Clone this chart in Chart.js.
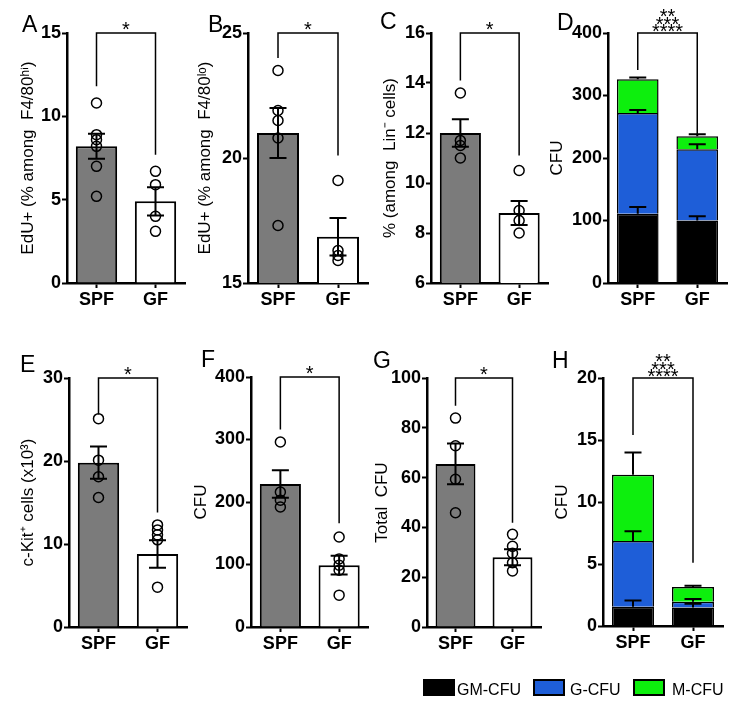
<!DOCTYPE html>
<html>
<head>
<meta charset="utf-8">
<script src="https://cdn.jsdelivr.net/npm/chart.js@4.4.1/dist/chart.umd.min.js"></script>
<style>
  body { margin: 0; background: #fff; width: 735px; height: 706px; position: relative; overflow: hidden;
         font-family: 'Liberation Sans', Arial, Helvetica, sans-serif; }
  .box { position: absolute; width: 32px; height: 17px; box-sizing: border-box; border: 2px solid #000; }
  .lab { position: absolute; font-size: 16px; line-height: 17px; color: #000; white-space: nowrap; }
</style>
</head>
<body>
<script>
const FONT = "'Liberation Sans', Arial, Helvetica, sans-serif";
const groups = ['SPF', 'GF'];

// A - EdU+ among F4/80hi
const hiMean = [8.2, 4.9];
const hiSem = [0.75, 0.85];
const hiSpf = [10.8, 8.9, 8.6, 8.2, 7.0, 5.2];
const hiGf = [6.7, 5.9, 4.0, 3.1];

// B - EdU+ among F4/80lo
const loMean = [21.0, 16.85];
const loSem = [1.0, 0.75];
const loSpf = [23.5, 21.9, 21.5, 20.8, 17.3];
const loGf = [19.1, 16.3, 16.1, 15.9];

// C - % among Lin- cells
const linMean = [12.0, 8.8];
const linSem = [0.55, 0.48];
const linSpf = [13.6, 11.7, 11.5, 11.0];
const linGf = [10.5, 8.9, 8.5, 8.0];

// D - CFU by type
const dGM = [111, 100];
const dG = [161, 114];
const dM = [54, 21];
const dGMSem = [10.5, 7];
const dGSem = [5, 8];
const dMSem = [3, 3];

// E - c-Kit+ cells (x10^3)
const kitMean = [19.8, 8.8];
const kitSem = [1.95, 1.65];
const kitSpf = [25.1, 20.1, 18.1, 15.6];
const kitGf = [12.3, 11.7, 11.1, 10.5, 4.8];

// F - CFU
const fMean = [229, 99];
const fSem = [22, 15];
const fSpf = [296, 216, 203, 192];
const fGf = [144, 109, 99, 91, 51];

// G - total CFU
const totMean = [65.5, 28.0];
const totSem = [8.2, 3.2];
const totSpf = [83.9, 72.8, 59.3, 45.9];
const totGf = [37.2, 32.4, 29.6, 25.8, 22.5];

// H - CFU by type
const hGM = [1.55, 1.5];
const hG = [5.3, 0.45];
const hM = [5.35, 1.2];
const hGMSem = [0.5, 0.3];
const hGSem = [0.8, 0.22];
const hMSem = [1.8, 0.1];

// y ranges [min, max, step]
const rangeA = [0, 15, 5];
const rangeB = [15, 25, 5];
const rangeC = [6, 16, 2];
const rangeD = [0, 400, 100];
const rangeE = [0, 30, 10];
const rangeF = [0, 400, 100];
const rangeG = [0, 100, 20];
const rangeH = [0, 20, 5];

// significance brackets [top, SPF end, GF end]
const brA = [15, 11.8, 7.7];
const brB = [25, 24.0, 20.1];
const brC = [16, 14.1, 11.1];
const brD = [400, 341, 237];
const brE = [30, 25.6, 13.8];
const brF = [400, 316, 166];
const brG = [100, 88.9, 41.9];
const brH = [20, 15.4, 5.1];

const typeNames = ['GM-CFU', 'G-CFU', 'M-CFU'];
const typeColors = ['#000000', '#1e5ed8', '#0def0d'];

const panels = [
  {letter: 'A', pos: [0, 0], plot: [67, 185, 33, 283], titleX: 28, letterAt: [22, 32],
   title: 'EdU+ (% among  F4/80ʰⁱ)', range: rangeA, mean: hiMean, sem: hiSem, pts: [hiSpf, hiGf], br: brA, stars: ['*']},
  {letter: 'B', pos: [180, 0], plot: [248, 368, 33, 283], titleX: 205, letterAt: [208, 32],
   title: 'EdU+ (% among  F4/80ˡᵒ)', range: rangeB, mean: loMean, sem: loSem, pts: [loSpf, loGf], br: brB, stars: ['*']},
  {letter: 'C', pos: [360, 0], plot: [431, 550, 33, 283], titleX: 390, letterAt: [380, 29],
   title: '% (among  Lin⁻ cells)', range: rangeC, mean: linMean, sem: linSem, pts: [linSpf, linGf], br: brC, stars: ['*']},
  {letter: 'D', pos: [540, 0], plot: [608, 727, 33, 283], titleX: 557, letterAt: [557, 30],
   title: 'CFU', range: rangeD, stack: [[dGM, dGMSem], [dG, dGSem], [dM, dMSem]], br: brD, stars: ['**', '***', '****']},
  {letter: 'E', pos: [0, 330], plot: [69, 187, 378, 627], titleX: 28, letterAt: [20, 372],
   title: 'c-Kit⁺ cells (x10³)', range: rangeE, mean: kitMean, sem: kitSem, pts: [kitSpf, kitGf], br: brE, stars: ['*']},
  {letter: 'F', pos: [180, 330], plot: [251, 370, 377, 627], titleX: 201, letterAt: [201, 367],
   title: 'CFU', range: rangeF, mean: fMean, sem: fSem, pts: [fSpf, fGf], br: brF, stars: ['*']},
  {letter: 'G', pos: [360, 330], plot: [427, 541, 378, 627], titleX: 382, letterAt: [373, 368],
   title: 'Total  CFU', range: rangeG, mean: totMean, sem: totSem, pts: [totSpf, totGf], br: brG, stars: ['*']},
  {letter: 'H', pos: [540, 330], plot: [603, 723, 378, 626], titleX: 562, letterAt: [552, 368],
   title: 'CFU', range: rangeH, stack: [[hGM, hGMSem], [hG, hGSem], [hM, hMSem]], br: brH, stars: ['**', '***', '****']}
];

function pointSet(spf, gf) {
  return spf.map(v => ({x: 'SPF', y: v})).concat(gf.map(v => ({x: 'GF', y: v})));
}

// error bars, bracket with stars, panel letter
function decor(p, ox, oy) {
  return {
    id: 'decor' + p.letter,
    afterDatasetsDraw(chart) {
      const {ctx, scales: {x, y}} = chart;
      ctx.save();
      ctx.strokeStyle = '#000';
      ctx.lineWidth = 2;
      const bars = [];
      if (p.stack) {
        const cum = [0, 0];
        p.stack.forEach(s => s[0].forEach((v, i) => {
          cum[i] += v;
          bars.push({i, from: cum[i], to: cum[i] + s[1][i]});
        }));
      } else {
        p.mean.forEach((v, i) => bars.push({i, from: v - p.sem[i], to: v + p.sem[i], cap2: true}));
      }
      bars.forEach(b => {
        const px = x.getPixelForValue(b.i);
        const y1 = y.getPixelForValue(b.from), y2 = y.getPixelForValue(b.to);
        ctx.beginPath();
        ctx.moveTo(px, y1); ctx.lineTo(px, y2);
        ctx.moveTo(px - 8.5, y2); ctx.lineTo(px + 8.5, y2);
        if (b.cap2) { ctx.moveTo(px - 8.5, y1); ctx.lineTo(px + 8.5, y1); }
        ctx.stroke();
      });
      ctx.restore();
    },
    afterDraw(chart) {
      const {ctx, scales: {x, y}} = chart;
      const x0 = x.getPixelForValue(0), x1 = x.getPixelForValue(1);
      const yt = y.getPixelForValue(p.br[0]);
      ctx.save();
      ctx.strokeStyle = '#000';
      ctx.lineWidth = 1.5;
      ctx.beginPath();
      ctx.moveTo(x0, y.getPixelForValue(p.br[1]));
      ctx.lineTo(x0, yt); ctx.lineTo(x1, yt);
      ctx.lineTo(x1, y.getPixelForValue(p.br[2]));
      ctx.stroke();
      ctx.fillStyle = '#000';
      ctx.textAlign = 'center';
      ctx.textBaseline = 'alphabetic';
      ctx.font = '20px ' + FONT;
      const n = p.stars.length;
      p.stars.forEach((s, k) => {
        const cy = n === 1 ? yt - 9 : yt - 6.5 - (n - 1 - k) * 7.5;
        ctx.fillText(s, (x0 + x1) / 2, cy + 11.6);
      });
      ctx.textAlign = 'left';
      ctx.font = '23px ' + FONT;
      ctx.fillText(p.letter, p.letterAt[0] - ox, p.letterAt[1] - oy);
      ctx.restore();
    }
  };
}

panels.forEach(p => {
  const [ox, oy] = p.pos;
  const w = 195, h = oy === 0 ? 320 : 325;
  const c = document.createElement('canvas');
  c.width = w; c.height = h;
  c.style.cssText = `position:absolute;left:${ox}px;top:${oy}px;width:${w}px;height:${h}px`;
  document.body.appendChild(c);
  const pl = p.plot[0] - ox, pr = p.plot[1] - ox, pt = p.plot[2] - oy, pb = p.plot[3] - oy;

  let datasets;
  if (p.stack) {
    datasets = p.stack.map((s, i) => ({
      type: 'bar', label: typeNames[i], data: s[0],
      backgroundColor: typeColors[i], borderColor: '#000', borderWidth: 1.5,
      barPercentage: 0.7, categoryPercentage: 1
    }));
  } else {
    datasets = [
      {type: 'scatter', data: pointSet(p.pts[0], p.pts[1]), order: 0,
       pointRadius: 5, pointBorderWidth: 1.5, pointBorderColor: '#000',
       pointBackgroundColor: 'rgba(0,0,0,0)'},
      {type: 'bar', data: p.mean, order: 1,
       backgroundColor: ['#7b7b7b', '#ffffff'], borderColor: '#000', borderWidth: 2,
       barPercentage: 0.7, categoryPercentage: 1}
    ];
  }

  new Chart(c, {
    type: 'bar',
    data: {labels: groups, datasets},
    options: {
      responsive: false,
      animation: false,
      layout: {padding: {left: 0, top: pt, right: w - pr, bottom: 0}},
      plugins: {legend: {display: false}, tooltip: {enabled: false}},
      scales: {
        x: {
          stacked: !!p.stack,
          offset: true,
          grid: {drawOnChartArea: false, drawTicks: true, tickLength: 5, tickWidth: 2, tickColor: '#000', offset: false},
          border: {display: true, color: '#000', width: 2.5},
          ticks: {color: '#000', padding: 1, maxRotation: 0, font: {family: FONT, size: 18, weight: 'bold'}},
          afterFit: s => { s.height = h - pb; }
        },
        y: {
          stacked: !!p.stack,
          min: p.range[0], max: p.range[1],
          grid: {drawOnChartArea: false, drawTicks: true, tickLength: 5, tickWidth: 2, tickColor: '#000'},
          border: {display: true, color: '#000', width: 2.5},
          ticks: {stepSize: p.range[2], color: '#000', padding: 1, font: {family: FONT, size: 18, weight: 'bold'}},
          title: {display: true, text: p.title, color: '#000',
                  font: {family: FONT, size: 17, lineHeight: 1},
                  padding: {top: p.titleX - ox - 8.5, bottom: 0}},
          afterFit: s => { s.width = pl; }
        }
      }
    },
    plugins: [decor(p, ox, oy)]
  });
});

// legend under the bottom row
const legBoxX = [423, 533, 633];
const legTextX = [457, 570, 672];
typeNames.forEach((name, i) => {
  const b = document.createElement('div');
  b.className = 'box';
  b.style.cssText = `left:${legBoxX[i]}px;top:679px;background:${typeColors[i]}`;
  document.body.appendChild(b);
  const t = document.createElement('div');
  t.className = 'lab';
  t.style.cssText = `left:${legTextX[i]}px;top:681px`;
  t.textContent = name;
  document.body.appendChild(t);
});
</script>
</body>
</html>
